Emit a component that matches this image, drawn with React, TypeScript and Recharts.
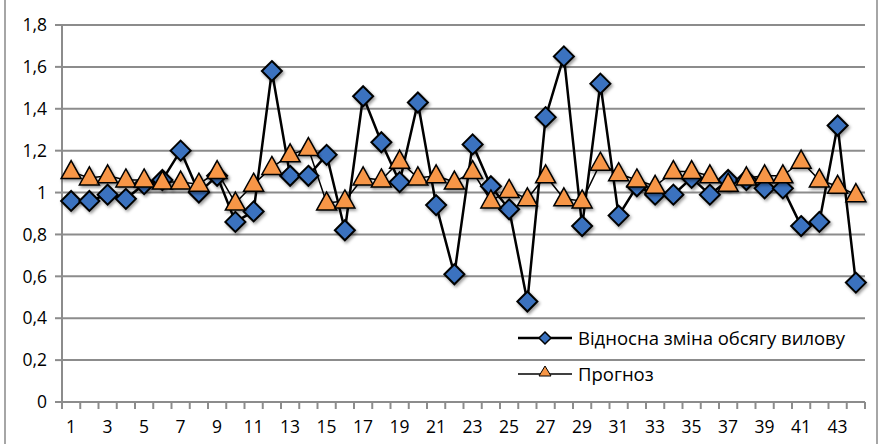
import { LineChart, Line, XAxis, YAxis, CartesianGrid } from 'recharts';

const periods = Array.from({ length: 44 }, (_, i) => String(i + 1));

const relChange = [
  0.96, 0.96, 0.99, 0.97, 1.04, 1.06, 1.2, 1.0, 1.08, 0.86,
  0.91, 1.58, 1.08, 1.08, 1.18, 0.82, 1.46, 1.24, 1.05, 1.43,
  0.94, 0.61, 1.23, 1.03, 0.92, 0.48, 1.36, 1.65, 0.84, 1.52,
  0.89, 1.03, 0.99, 0.99, 1.07, 0.99, 1.06, 1.06, 1.02, 1.02,
  0.84, 0.86, 1.32, 0.57,
];

const forecast = [
  1.1, 1.07, 1.08, 1.06, 1.06, 1.05, 1.05, 1.04, 1.1, 0.95,
  1.04, 1.12, 1.18, 1.21, 0.95, 0.96, 1.07, 1.06, 1.15, 1.07,
  1.08, 1.05, 1.1, 0.96, 1.01, 0.97, 1.08, 0.97, 0.96, 1.14,
  1.09, 1.06, 1.03, 1.1, 1.1, 1.08, 1.04, 1.07, 1.08, 1.08,
  1.15, 1.06, 1.03, 0.99,
];

const yTicks = [0, 0.2, 0.4, 0.6, 0.8, 1, 1.2, 1.4, 1.6, 1.8];

const seriesNames = ['Відносна зміна обсягу вилову', 'Прогноз'];

const data = periods.map((p, i) => ({ p, a: relChange[i], b: forecast[i] }));

const W = 884;
const H = 444;
const M = { top: 25, right: 19, bottom: 0, left: 0 };
const X_H = 42;
const Y_W = 62;
const BAND = (W - M.right - Y_W) / periods.length;

const FONT = '"Open Sans", "Liberation Sans", sans-serif';

const Diamond = (props: any) => {
  const { cx, cy } = props;
  if (cx == null || cy == null) return null;
  const r = 10;
  return (
    <polygon
      points={`${cx},${cy - r} ${cx + r},${cy} ${cx},${cy + r} ${cx - r},${cy}`}
      fill="#3a72bf"
      stroke="#000"
      strokeWidth={2}
      filter="url(#shadow)"
    />
  );
};

const Triangle = (props: any) => {
  const { cx, cy } = props;
  if (cx == null || cy == null) return null;
  return (
    <polygon
      points={`${cx},${cy - 11} ${cx + 10},${cy + 7} ${cx - 10},${cy + 7}`}
      fill="#f79646"
      stroke="#000"
      strokeWidth={1.5}
      filter="url(#shadow)"
    />
  );
};

const XTick = (props: any) => {
  const { x, y, payload, index } = props;
  const left = x - BAND / 2;
  return (
    <g>
      <line x1={left} y1={y - 8} x2={left} y2={y - 1} stroke="#8c8c8c" strokeWidth={2} />
      {index === periods.length - 1 && (
        <line x1={left + BAND} y1={y - 8} x2={left + BAND} y2={y - 1} stroke="#8c8c8c" strokeWidth={2} />
      )}
      {index % 2 === 0 && (
        <text x={x} y={y + 23} textAnchor="middle" fontSize={17.5} fontFamily={FONT} fill="#000">
          {payload.value}
        </text>
      )}
    </g>
  );
};

const LegendBox = () => (
  <svg width={360} height={80} style={{ position: 'absolute', left: 515, top: 321 }}>
    <line x1={3} y1={17} x2={57} y2={17} stroke="#000" strokeWidth={2.5} />
    <polygon points="30,11 36,17 30,23 24,17" fill="#3a72bf" stroke="#000" strokeWidth={1.5} />
    <text x={63} y={24} fontSize={18.5} fontFamily={FONT} fill="#000">{seriesNames[0]}</text>
    <line x1={3} y1={53} x2={57} y2={53} stroke="#000" strokeWidth={1.5} />
    <polygon points="30,45 36,55 24,55" fill="#f79646" stroke="#000" strokeWidth={1} />
    <text x={63} y={60} fontSize={18.5} fontFamily={FONT} fill="#000">{seriesNames[1]}</text>
  </svg>
);

export default function App() {
  return (
    <div style={{ position: 'absolute', left: 0, top: 0, width: W, height: H, background: '#fff' }}>
      <div
        style={{
          position: 'absolute',
          left: 4,
          top: 0,
          width: 874,
          height: H,
          borderLeft: '2px solid #a6a6a6',
          borderRight: '2px solid #a6a6a6',
          boxSizing: 'border-box',
        }}
      />
      <LineChart width={W} height={H} data={data} margin={M}>
        <defs>
          <filter id="shadow" x="-50%" y="-50%" width="200%" height="200%">
            <feDropShadow dx={1.5} dy={2} stdDeviation={1.5} floodColor="#000" floodOpacity={0.4} />
          </filter>
        </defs>
        <CartesianGrid vertical={false} stroke="#8c8c8c" strokeWidth={2} />
        <XAxis
          dataKey="p"
          interval={0}
          tick={<XTick />}
          tickLine={false}
          padding={{ left: BAND / 2, right: BAND / 2 }}
          axisLine={{ stroke: '#8c8c8c', strokeWidth: 2 }}
          height={X_H}
        />
        <YAxis
          domain={[0, 1.8]}
          ticks={yTicks}
          width={Y_W}
          interval={0}
          tickFormatter={(v: number) => String(v).replace('.', ',')}
          tick={{ fontSize: 17.5, fontFamily: FONT, fill: '#000' }}
          tickLine={{ stroke: '#8c8c8c', strokeWidth: 2 }}
          tickSize={7}
          tickMargin={8}
          axisLine={{ stroke: '#8c8c8c', strokeWidth: 2 }}
        />
        <Line
          dataKey="a"
          name={seriesNames[0]}
          stroke="#000"
          strokeWidth={2.5}
          dot={<Diamond />}
          activeDot={false}
          isAnimationActive={false}
        />
        <Line
          dataKey="b"
          name={seriesNames[1]}
          stroke="#000"
          strokeWidth={1.5}
          dot={<Triangle />}
          activeDot={false}
          isAnimationActive={false}
        />
      </LineChart>
      <LegendBox />
    </div>
  );
}
